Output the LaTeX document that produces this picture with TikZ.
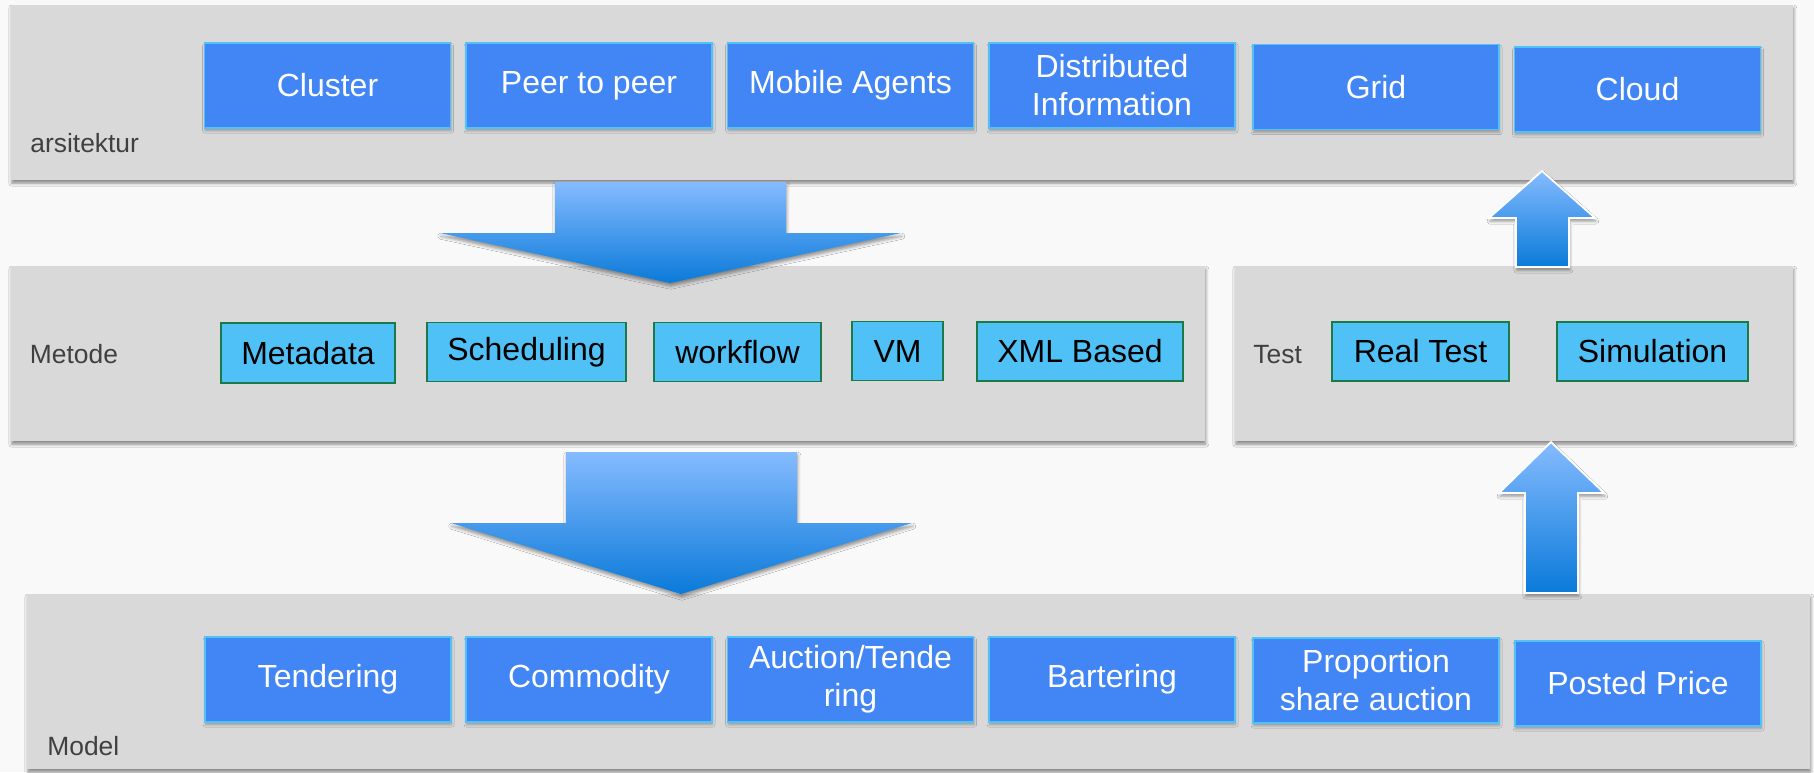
\documentclass[tikz,border=0pt]{standalone}
\usepackage{fontspec}
\setmainfont{Liberation Sans}
\usetikzlibrary{shadows.blur}

\definecolor{bggray}{HTML}{F9F9F9}
\definecolor{panelgray}{HTML}{D9D9D9}
\definecolor{boxblue}{HTML}{4285F4}
\definecolor{boxrim}{HTML}{4FC3F7}
\definecolor{boxcyan}{HTML}{4FC1F6}
\definecolor{cyanrim}{HTML}{1C7A48}
\definecolor{arrowtop}{HTML}{85BBFF}
\definecolor{arrowbot}{HTML}{0A7AD9}
\definecolor{labelgray}{HTML}{404040}

\tikzset{
  panel/.style={fill=panelgray,
    blur shadow={shadow xshift=0.4pt, shadow yshift=-1.6pt, shadow blur radius=1.5pt, shadow opacity=45}},
  bluebox/.style={rectangle, fill=boxblue, draw=boxrim, line width=0.8pt, text=white,
    minimum width=123pt, minimum height=42.5pt, inner sep=0pt, align=center,
    font=\fontsize{16}{19}\selectfont,
    blur shadow={shadow xshift=0.3pt, shadow yshift=-1.4pt, shadow blur radius=1.2pt, shadow opacity=30}},
  cyanbox/.style={rectangle, fill=boxcyan, draw=cyanrim, line width=0.6pt, text=black,
    minimum height=29.5pt, inner sep=0pt, font=\fontsize{16}{19}\selectfont},
  panellabel/.style={anchor=base west, text=labelgray, inner sep=0pt,
    font=\fontsize{13.2}{15}\selectfont},
  blokarrow/.style={top color=arrowtop, bottom color=arrowbot,
    blur shadow={shadow xshift=0.4pt, shadow yshift=-1.6pt, shadow blur radius=1.5pt, shadow opacity=40}},
}

\begin{document}
\begin{tikzpicture}[x=0.5pt,y=-0.5pt]
\fill[bggray] (0,0) rectangle (1814,772);
\useasboundingbox (0,0) rectangle (1814,772);

% panels
\fill[panel] (11,5) rectangle (1793,180);
\fill[panel] (11,266) rectangle (1205,441);
\fill[panel] (1235,266) rectangle (1793,441);
\fill[panel] (27,594) rectangle (1810,769);

\node[panellabel] (arsi) at (30,152) {arsitektur};
\node[panellabel] (metode) at (29.5,363) {Metode};
\node[panellabel] (test) at (1253,363) {Test};
\node[panellabel] (model) at (47,755) {Model};

% block arrows
\shade[blokarrow] (555,182) -- (786,182) -- (786,233) -- (901,233) -- (670,283)
  -- (440,233) -- (555,233) -- cycle;
\shade[blokarrow] (566,452) -- (797,452) -- (797,523) -- (912,523) -- (681,594)
  -- (451,523) -- (566,523) -- cycle;
\shade[blokarrow,draw=white,line width=0.9pt] (1542,171) -- (1595,218) -- (1569,218)
  -- (1569,267) -- (1516,267) -- (1516,218) -- (1489,218) -- cycle;
\shade[blokarrow,draw=white,line width=0.9pt] (1551,442) -- (1604,493) -- (1578,493)
  -- (1578,593) -- (1525,593) -- (1525,493) -- (1499,493) -- cycle;

% arsitektur
\node[bluebox] (cluster) at (327.5,85.5) {Cluster};
\node[bluebox] (p2p) at (589,85.5) {Peer to peer};
\node[bluebox] (mobile) at (850.5,85.5) {Mobile Agents};
\node[bluebox] (distinfo) at (1112,85.5) {Distributed\\Information};
\node[bluebox] (grid) at (1376,87) {Grid};
\node[bluebox] (cloud) at (1637.5,89.5) {Cloud};

% metode
\node[cyanbox,minimum width=87pt,minimum height=30pt] (metadata) at (308,353) {Metadata};
\node[cyanbox,minimum width=99.5pt] (sched) at (526.5,352) {Scheduling};
\node[cyanbox,minimum width=83.5pt] (wflow) at (737.5,352) {workflow};
\node[cyanbox,minimum width=45.5pt] (vm) at (897.5,351) {VM};
\node[cyanbox,minimum width=103pt] (xml) at (1080,351.5) {XML Based};

% test
\node[cyanbox,minimum width=88.5pt] (realtest) at (1420.5,351.5) {Real Test};
\node[cyanbox,minimum width=95.5pt] (simul) at (1652.5,351.5) {Simulation};

% model
\node[bluebox] (tender) at (328,679.5) {Tendering};
\node[bluebox] (commod) at (589,679.5) {Commodity};
\node[bluebox] (auction) at (850.5,679.5) {Auction/Tende\\ring};
\node[bluebox] (barter) at (1112,679.5) {Bartering};
\node[bluebox] (propshare) at (1376,680.5) {Proportion\\share auction};
\node[bluebox] (posted) at (1638,683.5) {Posted Price};
\end{tikzpicture}
\end{document}
